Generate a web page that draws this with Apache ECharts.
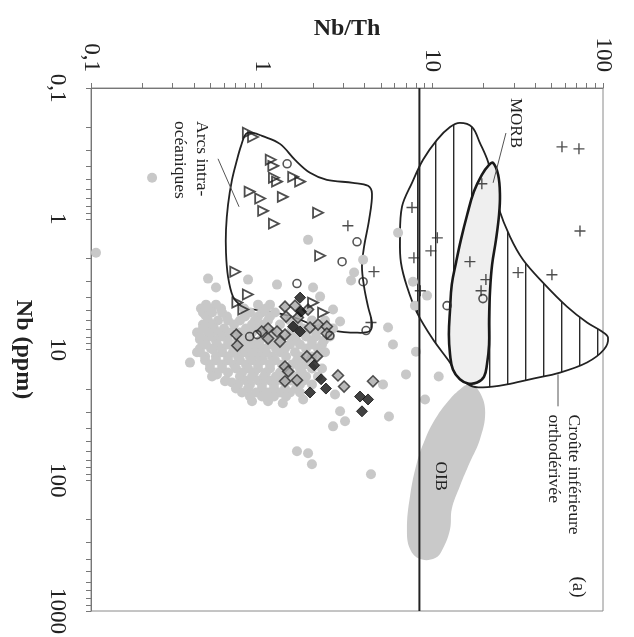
<!DOCTYPE html>
<html><head><meta charset="utf-8">
<script src="https://cdn.jsdelivr.net/npm/echarts@6/dist/echarts.min.js"></script>
<style>html,body{margin:0;padding:0;background:#fff;}#c{width:634px;height:637px;}</style>
</head><body><div id="c"></div>
<script>
// ---- axes ----
const nbThTicks = [0.1,0.2,0.3,0.4,0.5,0.6,0.7,0.8,0.9,1,2,3,4,5,6,7,8,9,10,20,30,40,50,60,70,80,90,100];
const nbTicks = [0.1,0.2,0.3,0.4,0.5,0.6,0.7,0.8,0.9,1,2,3,4,5,6,7,8,9,10,20,30,40,50,60,70,80,90,100,200,300,400,500,600,700,800,900,1000];
const nbThLabels = [0.1,1,10,100];
const nbLabels = [0.1,1,10,100,1000];

// ---- reference line (Nb/Th) ----
const refLine = [[8.4,0.1],[8.4,1000]];

// ---- data points [Nb/Th, Nb] ----
const triangles = [[0.83,0.22],[0.89,0.237],[1.13,0.354],[1.17,0.394],[1.18,0.486],[1.23,0.52],[1.53,0.478],[1.68,0.52],[1.33,0.68],[0.85,0.62],[0.98,0.70],[1.02,0.87],[1.18,1.09],[2.14,0.90],[2.2,1.92],[0.70,2.54],[0.83,3.8],[0.72,4.38],[0.78,4.95],[2.0,4.38],[2.29,5.22]];
const circles = [[1.41,0.38],[3.62,1.5],[2.96,2.13],[3.93,3.03],[1.61,3.13],[4.09,7.16],[2.51,7.82],[0.94,7.69],[0.85,7.96],[12.2,4.62],[19.8,4.08]];
const pluses = [[57.5,0.282],[72.3,0.292],[19.5,0.54],[73.3,1.24],[7.6,0.82],[10.7,1.40],[9.8,1.76],[7.8,1.99],[16.6,2.13],[20.6,2.92],[31.8,2.58],[50.2,2.68],[8.5,3.55],[19.3,3.55],[3.2,1.13],[4.55,2.54],[4.37,6.22]];
const blackDiamonds = [[1.68,4.01],[1.70,5.13],[1.53,6.67],[1.68,7.29],[2.03,13.2],[2.23,16.9],[2.38,19.9],[1.92,21.3],[3.77,22.9],[4.2,24.1],[3.87,29.7]];
const greyDiamonds = [[1.37,4.70],[1.57,4.62],[1.39,5.6],[1.87,4.95],[1.09,6.91],[1.23,7.29],[1.09,8.24],[1.28,8.69],[1.37,7.69],[0.71,7.69],[0.72,9.32],[1.92,6.79],[2.14,6.44],[2.41,6.67],[2.41,7.55],[1.84,11.3],[2.11,11.3],[1.37,13.5],[1.43,14.7],[1.37,17.5],[1.61,17.2],[2.80,15.8],[3.04,19.2],[4.49,17.5],[1.63,5.7],[1.0,7.29]];
const greyDots = [
 [0.107,1.82],[0.228,0.486],[1.87,1.45],[3.93,2.06],[3.48,2.58],[3.34,2.97],[6.30,1.28],[0.485,2.87],[0.54,3.36],[0.832,2.92],[1.23,3.19],[2.0,3.36],[2.2,3.94],[2.62,4.95],[2.88,6.11],[5.5,6.79],[5.88,9.16],[5.14,18.5],[2.88,29.7],[3.08,35.4],[2.62,38.7],[5.57,32.5],[1.61,60.1],[1.87,62.2],[1.97,75.5],[4.37,90],[0.878,24.9],[1.09,24.9],[1.33,25.8],[1.75,24.1],[0.547,15.5],[0.61,17.5],[0.67,17.9],[0.38,12.6],[0.418,10.5],[0.466,5.41],[0.478,6.44],[0.498,7.42],[0.519,10],[0.435,8.39],[7.70,3.03],[9.31,3.87],[7.91,4.62],[8.02,10.4],[7.01,15.5],[10.9,16.1],[9.06,24.1],[2.69,22.1],
 [0.472,4.54],[0.54,4.54],[0.952,4.54],[1.119,4.54],
 [0.441,4.864],[0.505,4.864],[0.578,4.864],[0.788,4.864],[1.060,4.864],
 [0.453,5.22],[0.512,5.22],[0.586,5.22],[0.854,5.22],[1.004,5.22],[1.197,5.22],[1.677,5.22],
 [0.478,5.598],[0.626,5.598],[0.798,5.598],[0.952,5.598],[1.119,5.598],
 [0.485,6.0],[0.555,6.0],[0.635,6.0],[0.746,6.0],[0.914,6.0],[1.089,6.0],[1.466,6.0],[1.972,6.0],[2.35,6.0],
 [0.453,6.443],[0.519,6.443],[0.689,6.443],[0.878,6.443],[1.018,6.443],[1.28,6.443],[1.633,6.443],
 [0.453,6.91],[0.526,6.91],[0.602,6.91],[0.809,6.91],[0.952,6.91],[1.506,6.91],[1.747,6.91],[2.197,6.91],[2.618,6.91],
 [0.418,7.415],[0.485,7.415],[0.562,7.415],[0.652,7.415],[0.746,7.415],[0.878,7.415],[1.149,7.415],[1.633,7.415],[2.082,7.415],
 [0.435,7.96],[0.505,7.96],[0.586,7.96],[0.777,7.96],[1.046,7.96],[1.466,7.96],[1.819,7.96],[2.082,7.96],[2.514,7.96],
 [0.466,8.537],[0.54,8.537],[0.635,8.537],[0.727,8.537],[0.854,8.537],[0.978,8.537],[1.149,8.537],[1.589,8.537],[1.972,8.537],[2.318,8.537],
 [0.472,9.16],[0.547,9.16],[0.635,9.16],[0.809,9.16],[0.939,9.16],[1.119,9.16],[1.466,9.16],[1.677,9.16],[1.972,9.16],[2.257,9.16],
 [0.435,9.826],[0.505,9.826],[0.586,9.826],[0.689,9.826],[0.746,9.826],[0.878,9.826],[1.018,9.826],[1.213,9.826],[1.37,9.826],[1.819,9.826],[2.138,9.826],
 [0.435,10.5],[0.586,10.5],[0.679,10.5],[0.788,10.5],[0.914,10.5],[1.06,10.5],[1.28,10.5],[1.568,10.5],[2.35,10.5],
 [0.466,11.31],[0.54,11.31],[0.635,11.31],[0.727,11.31],[0.854,11.31],[0.978,11.31],[1.149,11.31],[1.389,11.31],[1.677,11.31],[1.972,11.31],
 [0.466,12.1],[0.54,12.1],[0.635,12.1],[0.746,12.1],[0.878,12.1],[1.018,12.1],[1.197,12.1],[1.611,12.1],[1.92,12.1],
 [0.498,13.02],[0.586,13.02],[0.689,13.02],[0.809,13.02],[0.952,13.02],[1.119,13.02],[1.316,13.02],[1.506,13.02],[1.794,13.02],
 [0.498,13.96],[0.586,13.96],[0.707,13.96],[0.832,13.96],[0.952,13.96],[1.119,13.96],[1.677,13.96],[1.972,13.96],[2.257,13.96],
 [0.54,14.98],[0.635,14.98],[0.767,14.98],[0.902,14.98],[1.06,14.98],[1.28,14.98],[1.466,14.98],[1.723,14.98],
 [0.512,16.1],[0.746,16.1],[0.878,16.1],[1.032,16.1],[1.213,16.1],[1.589,16.1],[1.819,16.1],[2.138,16.1],
 [0.618,17.25],[0.809,17.25],[0.952,17.25],[1.119,17.25],[1.316,17.25],[1.485,17.25],[1.77,17.25],
 [0.727,18.5],[0.854,18.5],[1.004,18.5],[1.181,18.5],[1.677,18.5],[1.972,18.5],
 [0.707,19.85],[0.832,19.85],[1.004,19.85],[1.181,19.85],[1.37,19.85],[1.589,19.85],
 [0.767,21.3],[0.927,21.3],[1.089,21.3],[1.28,21.3],[1.466,21.3],[1.677,21.3],
 [0.854,22.85],[1.004,22.85],[1.181,22.85],[1.389,22.85]
];

// ---- fields (outlines) ----
const arcsOutline = [[0.81,0.224],[0.89,0.2206],[1.004,0.2325],[1.28,0.2676],[1.568,0.3544],[1.92,0.4456],[2.41,0.504],[3.43,0.531],[4.2,0.56],[4.43,0.644],[4.26,1.02],[3.98,1.64],[3.87,2.33],[3.98,3.30],[4.2,4.70],[4.43,6.33],[4.26,7.29],[3.43,7.42],[2.88,7.29],[2.45,7.04],[1.97,6.44],[1.568,5.70],[1.28,5.31],[1.004,5.04],[0.832,4.86],[0.746,4.54],[0.679,3.94],[0.635,2.77],[0.618,1.82],[0.618,1.213],[0.635,0.782],[0.67,0.504],[0.717,0.354],[0.757,0.277]];
const crustOutline = [[14.5,0.185],[17.1,0.199],[19.0,0.263],[21.2,0.367],[22.7,0.55],[24.3,0.81],[28.5,1.37],[34.0,2.06],[44.5,3.08],[61.5,4.70],[80.6,6.22],[98.6,7.29],[107,8.1],[101.3,10],[80.6,12.57],[56.0,15.0],[37.3,16.9],[27.4,18.5],[19.8,19.5],[16.6,18.8],[14.1,15.8],[12.7,12.6],[10.1,8.39],[8.13,5.22],[7.1,3.3],[6.55,2.17],[6.46,1.45],[6.64,0.81],[7.6,0.531],[8.82,0.354],[10.65,0.249],[12.7,0.199]];
const morbOutline = [[22.7,0.3736],[24.3,0.461],[24.9,0.656],[24.6,0.932],[23.6,1.45],[22.4,2.24],[21.8,3.48],[21.5,5.9],[21.5,9.16],[20.9,13.0],[20.1,16.1],[18.3,17.9],[16.2,18.2],[14.5,16.9],[13.2,14.2],[12.7,10.92],[12.5,7.69],[12.7,4.95],[13.0,3.19],[13.8,2.13],[14.7,1.45],[16.0,0.932],[17.5,0.622],[19.5,0.461],[21.5,0.387]];
const oibOutline = [[16.6,18.5],[19.0,21.3],[20.4,30.3],[19.0,48.7],[16.6,72.9],[14.5,111],[13.0,166],[12.7,237],[11.5,336],[10.4,394],[8.47,401],[7.4,336],[7.1,237],[7.4,132.5],[8.13,72.9],[9.06,48.7],[10.37,34.2],[12.2,25.4],[14.5,20.2]];

// ---- annotations ----
const leaderLines = [[[27.0,0.221],[22.7,0.531]],[[0.555,0.348],[0.737,0.81]],[[54.5,15.5],[54.5,27.2]]];
const annTexts = ['MORB','Arcs intra-\nocéaniques','Croûte inférieure\northodérivée','OIB','(a)'];
const annAnchors = [[30.9,0.185],[0.519,0.179],[77.4,31.4],[11.2,93.2],[71.4,656]];

const SERIF = '"Liberation Serif","Times New Roman",serif';
const annStyle = [
 {align:'center',verticalAlign:'middle',fontSize:17,lineHeight:20},
 {align:'left',verticalAlign:'top',fontSize:17.5,lineHeight:22},
 {align:'left',verticalAlign:'top',fontSize:17.5,lineHeight:20},
 {align:'center',verticalAlign:'middle',fontSize:17,lineHeight:20},
 {align:'center',verticalAlign:'middle',fontSize:19,lineHeight:22}
];

// hatch pattern for lower crust field
const hatch = document.createElement('canvas');
hatch.width = 18; hatch.height = 8;
const hctx = hatch.getContext('2d');
hctx.fillStyle = '#2a2a2a';
hctx.fillRect(3, 0, 1.4, 8);

function polySeries(name, pts, style, smooth) {
  return {
    type:'custom', name:name, coordinateSystem:'cartesian2d', silent:true,
    data:[[1,1]],
    renderItem:function(params, api){
      return {type:'polygon', shape:{points: pts.map(function(p){return api.coord(p);}), smooth: smooth}, style: style};
    }
  };
}

const chart = echarts.init(document.getElementById('c'), null, {renderer:'canvas'});
const labelFmt = function(v){ return String(v).replace('.', ','); };
const option = {
  backgroundColor:'#fff',
  animation:false,
  grid:{left:91, top:88, width:512, height:524, show:true, borderColor:'#8a8a8a', borderWidth:1},
  xAxis:{type:'log', logBase:10, position:'top', min:0.1, max:100,
    name:'Nb/Th', nameLocation:'middle', nameGap:47, nameMoveOverlap:false,
    nameTextStyle:{fontFamily:SERIF, fontWeight:'bold', fontSize:24, color:'#222'},
    axisLine:{show:true, lineStyle:{color:'#777', width:1}},
    axisTick:{show:true, length:5, customValues:nbThTicks, lineStyle:{color:'#777'}},
    splitLine:{show:false}, minorTick:{show:false},
    axisLabel:{customValues:nbThLabels, rotate:90, margin:16, fontFamily:SERIF, fontSize:23, color:'#222', formatter:labelFmt}
  },
  yAxis:{type:'log', logBase:10, inverse:true, position:'left', min:0.1, max:1000,
    name:'Nb (ppm)', nameLocation:'middle', nameGap:56, nameRotate:-90, nameMoveOverlap:false,
    nameTextStyle:{fontFamily:SERIF, fontWeight:'bold', fontSize:24, color:'#222'},
    axisLine:{show:true, lineStyle:{color:'#777', width:1}},
    axisTick:{show:true, length:5, customValues:nbTicks, lineStyle:{color:'#777'}},
    splitLine:{show:false}, minorTick:{show:false},
    axisLabel:{customValues:nbLabels, rotate:-90, margin:22, fontFamily:SERIF, fontSize:23, color:'#222', formatter:labelFmt}
  },
  series:[
    polySeries('OIB', oibOutline, {fill:'#c9c9c9', stroke:null}, 0.4),
    polySeries('Croûte', crustOutline, {fill:{image:hatch, repeat:'repeat'}, stroke:'#222', lineWidth:1.8}, 0.35),
    polySeries('MORB', morbOutline, {fill:'#efefef', stroke:'#1a1a1a', lineWidth:2.6}, 0.4),
    {type:'line', data:refLine, symbol:'none', silent:true, lineStyle:{color:'#222', width:2}},
    {type:'scatter', data:greyDots, symbol:'circle', symbolSize:10, silent:true, itemStyle:{color:'#c8c8c8', opacity:1}},
    polySeries('Arcs', arcsOutline, {fill:null, stroke:'#222', lineWidth:1.8}, 0.35),
    {type:'scatter', data:greyDiamonds, symbol:'diamond', symbolSize:11, silent:true, itemStyle:{color:'#a8a8a8', borderColor:'#2a2a2a', borderWidth:1.6}},
    {type:'scatter', data:blackDiamonds, symbol:'diamond', symbolSize:11, silent:true, itemStyle:{color:'#111', borderColor:'#111', borderWidth:1}},
    {type:'scatter', data:circles, symbol:'circle', symbolSize:8, silent:true, itemStyle:{color:'rgba(255,255,255,0)', borderColor:'#2a2a2a', borderWidth:1.6}},
    {type:'scatter', data:triangles, symbol:'triangle', symbolRotate:-90, symbolSize:10, silent:true, itemStyle:{color:'rgba(255,255,255,0)', borderColor:'#222', borderWidth:1.8}},
    {type:'scatter', data:pluses, symbol:'path://M8.75,0H11.25V8.75H20V11.25H11.25V20H8.75V11.25H0V8.75H8.75Z', symbolSize:11, silent:true, itemStyle:{color:'#222'}},
    {type:'custom', coordinateSystem:'cartesian2d', silent:true, data:[[1,1]],
      renderItem:function(params, api){
        return {type:'group', children: leaderLines.map(function(seg){
          const a = api.coord(seg[0]), b = api.coord(seg[1]);
          return {type:'line', shape:{x1:a[0], y1:a[1], x2:b[0], y2:b[1]}, style:{stroke:'#555', lineWidth:1}};
        })};
      }},
    {type:'custom', coordinateSystem:'cartesian2d', silent:true, data:[[1,1]],
      renderItem:function(params, api){
        return {type:'group', children: annTexts.map(function(t, i){
          const p = api.coord(annAnchors[i]);
          const s = annStyle[i];
          return {type:'text', x:p[0], y:p[1], rotation:-Math.PI/2,
            style:{text:t, fill:'#222', fontFamily:'Liberation Serif', fontSize:s.fontSize, lineHeight:s.lineHeight, align:s.align, verticalAlign:s.verticalAlign}};
        })};
      }}
  ]
};
chart.setOption(option);
</script>
</body></html>
